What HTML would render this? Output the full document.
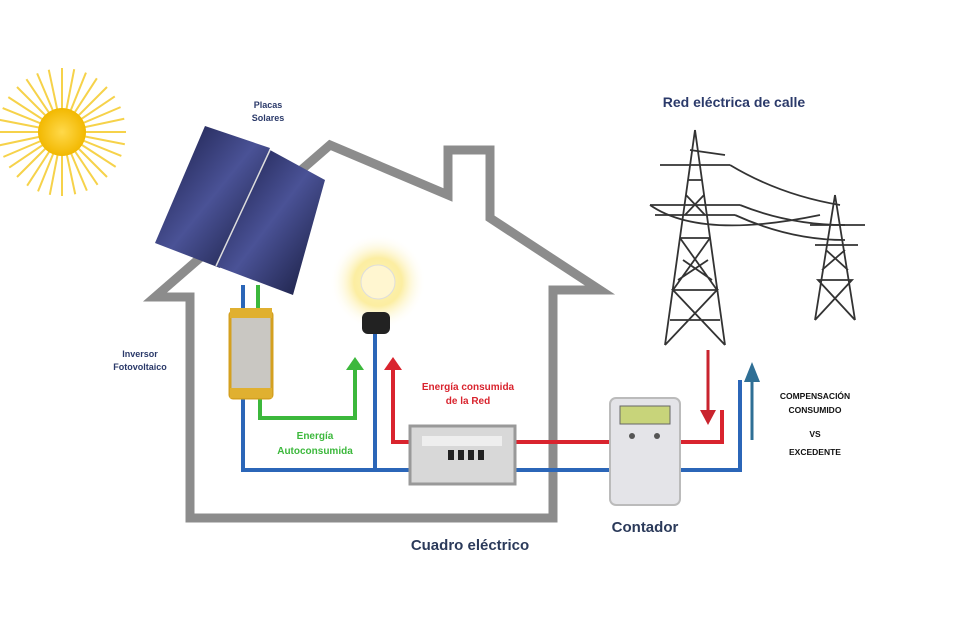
<!DOCTYPE html>
<html><head><meta charset="utf-8"><style>
html,body{margin:0;padding:0;background:#fff}
svg{display:block}
text{font-family:"Liberation Sans",sans-serif;font-weight:bold}
</style></head><body>
<svg width="955" height="629" viewBox="0 0 955 629" xmlns="http://www.w3.org/2000/svg">
<defs>
<radialGradient id="glow"><stop offset="0" stop-color="#fff8c0"/><stop offset="0.5" stop-color="#fbe98a" stop-opacity="0.8"/><stop offset="1" stop-color="#fff" stop-opacity="0"/></radialGradient>
<radialGradient id="sun"><stop offset="0" stop-color="#ffd94a"/><stop offset="1" stop-color="#f2b800"/></radialGradient>
<linearGradient id="pan" x1="0" y1="0" x2="1" y2="1"><stop offset="0" stop-color="#151840"/><stop offset="0.5" stop-color="#4a5296"/><stop offset="1" stop-color="#141838"/></linearGradient>
</defs>
<!-- sun -->
<g stroke="#f6d24a" stroke-width="2">
<g id="rays">
<line x1="62" y1="132" x2="62" y2="68"/><line x1="62" y1="132" x2="126" y2="132"/><line x1="62" y1="132" x2="62" y2="196"/><line x1="62" y1="132" x2="-2" y2="132"/>
<line x1="62" y1="132" x2="107" y2="87"/><line x1="62" y1="132" x2="107" y2="177"/><line x1="62" y1="132" x2="17" y2="177"/><line x1="62" y1="132" x2="17" y2="87"/>
</g>
<use href="#rays" transform="rotate(11 62 132)"/><use href="#rays" transform="rotate(22 62 132)"/><use href="#rays" transform="rotate(33 62 132)"/>
</g>
<circle cx="62" cy="132" r="24" fill="url(#sun)"/>
<!-- house -->
<path d="M553,518 L553,290 L600,290 L490,218 L490,150 L448,150 L448,195 L330,145 L155,297 L190,297 L190,518 Z" fill="none" stroke="#8c8c8c" stroke-width="9" stroke-linejoin="miter"/>
<!-- panels -->
<polygon points="205,126 270,148 220,268 155,243" fill="url(#pan)"/>
<polygon points="270,150 325,180 293,295 216,266" fill="url(#pan)"/>
<line x1="270" y1="150" x2="216" y2="266" stroke="#ddd" stroke-width="1.5"/>
<!-- wires -->
<g fill="none" stroke-width="4">
<path d="M243,285 L243,470 L410,470" stroke="#2b66b8"/>
<path d="M375,330 L375,470" stroke="#2b66b8"/>
<path d="M515,470 L610,470 M680,470 L740,470 L740,380" stroke="#2b66b8"/>
<path d="M258,285 L258,310" stroke="#3cb83c"/>
<path d="M260,398 L260,418 L355,418 L355,368" stroke="#3cb83c"/>
<path d="M393,368 L393,442 L410,442" stroke="#d9242e"/>
<path d="M515,442 L610,442 M680,442 L722,442 L722,410" stroke="#d9242e"/>
<path d="M708,350 L708,412" stroke="#c9242e" stroke-width="3"/>
<path d="M752,380 L752,440" stroke="#2f6f95" stroke-width="3"/>
</g>
<polygon points="346,370 364,370 355,357" fill="#3cb83c"/>
<polygon points="384,370 402,370 393,357" fill="#d9242e"/>
<polygon points="700,410 716,410 708,425" fill="#c9242e"/>
<polygon points="744,382 760,382 752,362" fill="#2f6f95"/>
<!-- inverter -->
<rect x="230" y="312" width="42" height="86" rx="3" fill="#c9c7c2" stroke="#d4a020" stroke-width="3"/>
<rect x="230" y="308" width="42" height="10" fill="#e0b030"/><rect x="230" y="388" width="42" height="10" fill="#e0b030"/>
<!-- bulb -->
<circle cx="378" cy="282" r="48" fill="url(#glow)"/>
<circle cx="378" cy="282" r="17" fill="#fff6d0" stroke="#ddd" stroke-width="1"/>
<rect x="362" y="312" width="28" height="22" rx="6" fill="#222"/>
<!-- cuadro -->
<rect x="410" y="426" width="105" height="58" fill="#d8d8d8" stroke="#999" stroke-width="3"/>
<rect x="422" y="436" width="80" height="10" fill="#eee"/>
<g fill="#222"><rect x="448" y="450" width="6" height="10"/><rect x="458" y="450" width="6" height="10"/><rect x="468" y="450" width="6" height="10"/><rect x="478" y="450" width="6" height="10"/></g>
<!-- meter -->
<rect x="610" y="398" width="70" height="107" rx="6" fill="#e4e4e8" stroke="#bbb" stroke-width="2"/>
<rect x="620" y="406" width="50" height="18" fill="#c8d47a" stroke="#666"/>
<circle cx="632" cy="436" r="3" fill="#555"/><circle cx="657" cy="436" r="3" fill="#555"/>
<!-- towers -->
<g fill="none" stroke="#333" stroke-width="1.8">
<path d="M695,130 L665,345 M695,130 L725,345 M680,238 L710,238 M673,290 L717,290 M670,320 L720,320 M688,180 L702,180 M665,345 L717,290 L673,290 L725,345 M680,238 L717,290 M710,238 L673,290 M686,195 L705,215 M704,195 L685,215 M683,260 L712,280 M708,260 L678,280"/>
<path d="M650,205 L740,205 M655,215 L735,215 M660,165 L730,165 M690,150 L725,155"/>
<path d="M740,205 Q790,225 845,225 M735,215 Q790,240 845,240 M730,165 Q780,195 840,205 M650,205 Q700,240 820,215"/>
<path d="M835,195 L815,320 M835,195 L855,320 M815,320 L852,280 L818,280 L855,320 M810,225 L865,225 M815,245 L858,245 M826,250 L848,270 M845,250 L822,270"/>
</g>
<!-- labels -->
<g fill="#2b3a6a" font-size="9">
<text x="268" y="108" text-anchor="middle">Placas</text><text x="268" y="121" text-anchor="middle">Solares</text>
<text x="140" y="357" text-anchor="middle">Inversor</text><text x="140" y="370" text-anchor="middle">Fotovoltaico</text>
</g>
<g fill="#3cb83c" font-size="10" text-anchor="middle"><text x="315" y="439">Energía</text><text x="315" y="454">Autoconsumida</text></g>
<g fill="#d9242e" font-size="10" text-anchor="middle"><text x="468" y="390">Energía consumida</text><text x="468" y="404">de la Red</text></g>
<text x="470" y="550" fill="#2b3a5a" font-size="15" text-anchor="middle">Cuadro eléctrico</text>
<text x="645" y="532" fill="#2b3a5a" font-size="15" text-anchor="middle">Contador</text>
<text x="734" y="107" fill="#2b3a6a" font-size="14" text-anchor="middle">Red eléctrica de calle</text>
<g fill="#111" font-size="8.5" text-anchor="middle"><text x="815" y="399">COMPENSACIÓN</text><text x="815" y="413">CONSUMIDO</text><text x="815" y="437">VS</text><text x="815" y="455">EXCEDENTE</text></g>
</svg>
</body></html>
